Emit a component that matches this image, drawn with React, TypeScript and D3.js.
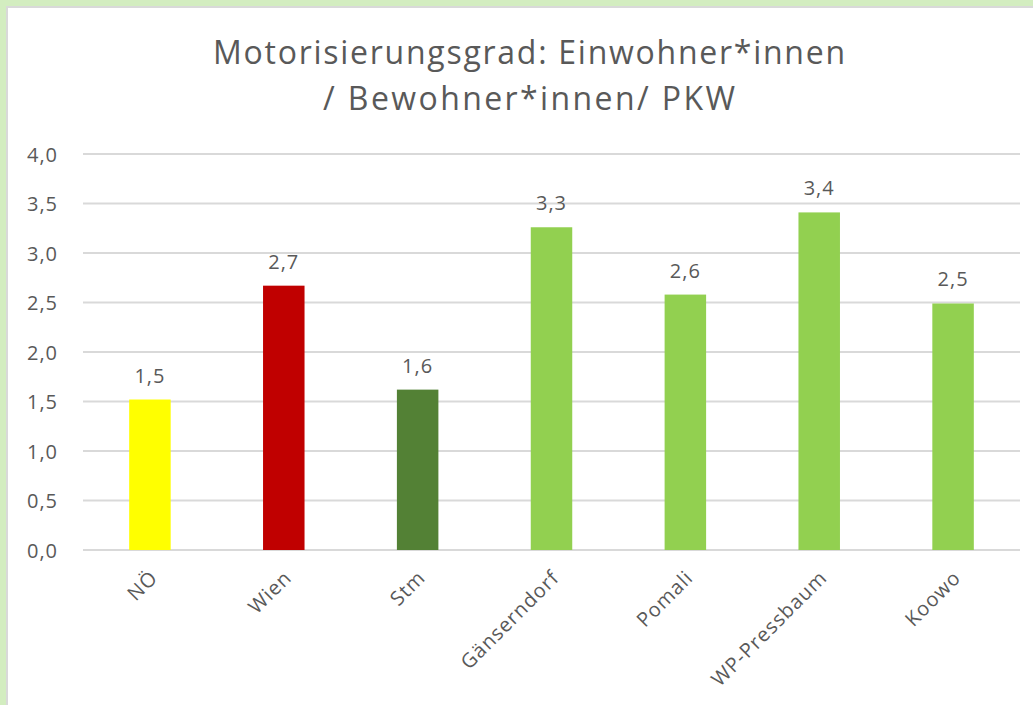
import React from "react";
import * as d3 from "d3";

const categories = ["NÖ", "Wien", "Stm", "Gänserndorf", "Pomali", "WP-Pressbaum", "Koowo"];
const values = [1.52, 2.67, 1.62, 3.26, 2.58, 3.41, 2.49];
const labels = ["1,5", "2,7", "1,6", "3,3", "2,6", "3,4", "2,5"];
const colors = ["#FFFF00", "#C00000", "#538135", "#92D050", "#92D050", "#92D050", "#92D050"];
const yTicks = [0, 0.5, 1, 1.5, 2, 2.5, 3, 3.5, 4];
const titleLines = ["Motorisierungsgrad: Einwohner*innen", "/ Bewohner*innen/ PKW"];
const titleWidths = [632, 412];

const W = 1033, H = 705;
const left = 83, right = 1020, top = 154, bottom = 550;

export default function App() {
  const x = d3.scaleBand<string>().domain(categories).range([left, right]).paddingInner(0.69).paddingOuter(0.345);
  const y = d3.scaleLinear().domain([0, 4]).range([bottom, top]);
  const fmt = (v: number) => d3.format(".1f")(v).replace(".", ",");
  const font = "'Open Sans', 'Noto Sans', sans-serif";
  const textCol = "#595959";
  return (
    <svg width={W} height={H} style={{ position: "absolute", left: 0, top: 0 }} fontFamily={font}>
      <rect x={0} y={0} width={W} height={H} fill="#d3edc0" />
      <rect x={7} y={7} width={W} height={H} fill="#ffffff" stroke="#d9d9d9" strokeWidth={2} />
      {titleLines.map((t, i) => (
        <text key={i} x={529} y={64 + i * 46} textAnchor="middle" fontSize={32} fill={textCol}
          textLength={titleWidths[i]} lengthAdjust="spacing">{t}</text>
      ))}
      {yTicks.map((t) => (
        <g key={t}>
          <line x1={left} x2={right} y1={y(t)} y2={y(t)} stroke="#d9d9d9" strokeWidth={2} />
          <text x={58} y={y(t)} dy="0.38em" textAnchor="end" fontSize={20} letterSpacing={1} fill={textCol}>{fmt(t)}</text>
        </g>
      ))}
      {categories.map((c, i) => (
        <g key={c}>
          <rect x={x(c)} y={y(values[i])} width={x.bandwidth()} height={bottom - y(values[i])} fill={colors[i]} />
          <text x={(x(c) as number) + x.bandwidth() / 2} y={y(values[i]) - 17} textAnchor="middle" fontSize={20} letterSpacing={1} fill={textCol}>{labels[i]}</text>
          <text
            transform={`translate(${(x(c) as number) + x.bandwidth() / 2 + 9},${579}) rotate(-45)`}
            textAnchor="end"
            fontSize={20}
            letterSpacing={1}
            fill={textCol}
          >{c}</text>
        </g>
      ))}
    </svg>
  );
}
